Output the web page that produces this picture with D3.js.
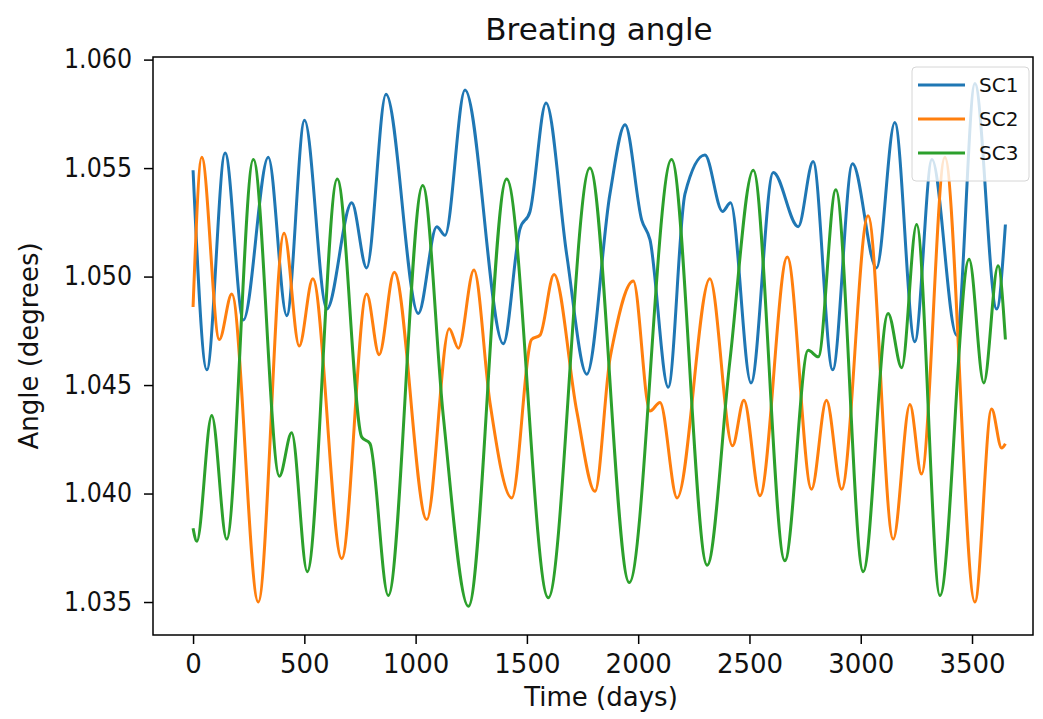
<!DOCTYPE html>
<html>
<head>
<meta charset="utf-8">
<script src="https://cdn.jsdelivr.net/npm/d3@7"></script>
<style>
  body { margin: 0; background: #fff; }
  svg { font-family: "DejaVu Sans", sans-serif; }
</style>
</head>
<body>
<script>
var svgW = 1043;
var svgH = 719;

// day, value pairs at turning points of each curve
var sc1Days = [0, 62, 144, 226, 338, 421, 501, 601, 713, 780, 867, 1012, 1095, 1132, 1222, 1394, 1469, 1514, 1586, 1679, 1769, 1873, 1941, 2016, 2053, 2135, 2210, 2300, 2379, 2415, 2507, 2607, 2719, 2786, 2874, 2963, 3071, 3153, 3243, 3320, 3431, 3513, 3611, 3650];
var sc1Vals = [1.0549, 1.0457, 1.0557, 1.0480, 1.0555, 1.0482, 1.0572, 1.0485, 1.0534, 1.0504, 1.0584, 1.0483, 1.0523, 1.0519, 1.0586, 1.0469, 1.0522, 1.0530, 1.0580, 1.0510, 1.0455, 1.0538, 1.0570, 1.0526, 1.0517, 1.0449, 1.0538, 1.0556, 1.0530, 1.0534, 1.0451, 1.0548, 1.0523, 1.0553, 1.0457, 1.0552, 1.0504, 1.0571, 1.0470, 1.0554, 1.0473, 1.0589, 1.0485, 1.0524];

var sc2Days = [0, 39, 118, 174, 293, 409, 477, 538, 668, 780, 836, 904, 1050, 1151, 1192, 1262, 1334, 1432, 1521, 1559, 1622, 1724, 1806, 1873, 1888, 1978, 2053, 2098, 2175, 2322, 2424, 2475, 2547, 2670, 2779, 2846, 2914, 3033, 3146, 3221, 3273, 3378, 3513, 3588, 3633, 3650];
var sc2Vals = [1.0486, 1.0555, 1.0471, 1.0492, 1.0350, 1.0520, 1.0468, 1.0499, 1.0370, 1.0492, 1.0464, 1.0502, 1.0388, 1.0476, 1.0467, 1.0503, 1.0442, 1.0398, 1.0471, 1.0473, 1.0501, 1.0438, 1.0401, 1.0462, 1.0470, 1.0498, 1.0438, 1.0442, 1.0398, 1.0499, 1.0422, 1.0443, 1.0399, 1.0509, 1.0402, 1.0443, 1.0402, 1.0528, 1.0379, 1.0441, 1.0409, 1.0555, 1.0350, 1.0439, 1.0421, 1.0423];

var sc3Days = [0, 17, 84, 151, 271, 388, 443, 513, 648, 758, 795, 877, 1032, 1124, 1237, 1409, 1596, 1783, 1960, 2150, 2310, 2412, 2517, 2659, 2764, 2809, 2888, 3011, 3123, 3184, 3251, 3356, 3487, 3553, 3617, 3650];
var sc3Vals = [1.0384, 1.0378, 1.0436, 1.0379, 1.0554, 1.0408, 1.0428, 1.0364, 1.0545, 1.0426, 1.0423, 1.0353, 1.0542, 1.0436, 1.0348, 1.0545, 1.0352, 1.0550, 1.0359, 1.0554, 1.0367, 1.0461, 1.0549, 1.0369, 1.0466, 1.0463, 1.0540, 1.0364, 1.0483, 1.0458, 1.0524, 1.0353, 1.0508, 1.0451, 1.0505, 1.0471];

var seriesNames = ["SC1", "SC2", "SC3"];
var seriesColors = ["#1f77b4", "#ff7f0e", "#2ca02c"];
var xTicks = [0, 500, 1000, 1500, 2000, 2500, 3000, 3500];
var yTicks = [1.035, 1.040, 1.045, 1.050, 1.055, 1.060];

var plotL = 153, plotR = 1033, plotT = 57, plotB = 635;

var x = d3.scaleLinear().domain([-180, 3774]).range([plotL, plotR]);
var y = d3.scaleLinear().domain([1.03348, 1.06012]).range([plotB, plotT]);

var svg = d3.select("body")
  .append("svg")
  .attr("width", svgW)
  .attr("height", svgH);

var series = [
  d3.zip(sc1Days, sc1Vals),
  d3.zip(sc2Days, sc2Vals),
  d3.zip(sc3Days, sc3Vals)
];

var line = d3.line()
  .x(function(d) { return x(d[0]); })
  .y(function(d) { return y(d[1]); })
  .curve(d3.curveMonotoneX);

svg.append("clipPath").attr("id", "plot")
  .append("rect")
  .attr("x", plotL).attr("y", plotT)
  .attr("width", plotR - plotL).attr("height", plotB - plotT);

svg.append("g")
  .attr("clip-path", "url(#plot)")
  .selectAll("path")
  .data(series)
  .enter()
  .append("path")
  .attr("d", line)
  .attr("fill", "none")
  .attr("stroke", function(d, i) { return seriesColors[i]; })
  .attr("stroke-width", 3)
  .attr("stroke-linejoin", "round");

// axes
var xAxis = svg.append("g")
  .attr("transform", "translate(0," + plotB + ")")
  .call(d3.axisBottom(x).tickValues(xTicks).tickSize(9).tickPadding(11).tickFormat(d3.format("d")));

var yAxis = svg.append("g")
  .attr("transform", "translate(" + plotL + ",0)")
  .call(d3.axisLeft(y).tickValues(yTicks).tickSize(9).tickPadding(12).tickFormat(d3.format(".3f")));

[xAxis, yAxis].forEach(function(a) {
  a.select(".domain").remove();
  a.selectAll("line").attr("stroke", "#000").attr("stroke-width", 1.5);
  a.selectAll("text").attr("font-size", "26px").attr("fill", "#111")
    .attr("font-family", "DejaVu Sans, sans-serif");
});
yAxis.selectAll("text").attr("textLength", 68).attr("lengthAdjust", "spacingAndGlyphs");

svg.append("rect")
  .attr("x", plotL).attr("y", plotT)
  .attr("width", plotR - plotL).attr("height", plotB - plotT)
  .attr("fill", "none")
  .attr("stroke", "#000")
  .attr("stroke-width", 1.5);

// labels
svg.append("text")
  .attr("x", (plotL + plotR) / 2 + 6)
  .attr("y", 40)
  .attr("text-anchor", "middle")
  .attr("font-size", "31px")
  .attr("fill", "#111")
  .text("Breating angle");

svg.append("text")
  .attr("x", (plotL + plotR) / 2 + 8)
  .attr("y", 706)
  .attr("text-anchor", "middle")
  .attr("font-size", "26px")
  .attr("fill", "#111")
  .text("Time (days)");

svg.append("text")
  .attr("transform", "translate(38," + (plotT + plotB) / 2 + ") rotate(-90)")
  .attr("text-anchor", "middle")
  .attr("font-size", "26px")
  .attr("fill", "#111")
  .text("Angle (degrees)");

// legend
var legend = svg.append("g");
legend.append("rect")
  .attr("x", 912).attr("y", 67)
  .attr("width", 117).attr("height", 114)
  .attr("rx", 4)
  .attr("fill", "#fff")
  .attr("fill-opacity", 0.8)
  .attr("stroke", "#d6d6d6");

legend.selectAll("line")
  .data(seriesNames)
  .enter()
  .append("line")
  .attr("x1", 918).attr("x2", 965)
  .attr("y1", function(d, i) { return 85 + i * 34; })
  .attr("y2", function(d, i) { return 85 + i * 34; })
  .attr("stroke", function(d, i) { return seriesColors[i]; })
  .attr("stroke-width", 3);

legend.selectAll("text")
  .data(seriesNames)
  .enter()
  .append("text")
  .attr("x", 979)
  .attr("y", function(d, i) { return 85 + i * 34; })
  .attr("dy", "0.35em")
  .attr("font-size", "20px")
  .attr("fill", "#111")
  .text(function(d) { return d; });
</script>
</body>
</html>
